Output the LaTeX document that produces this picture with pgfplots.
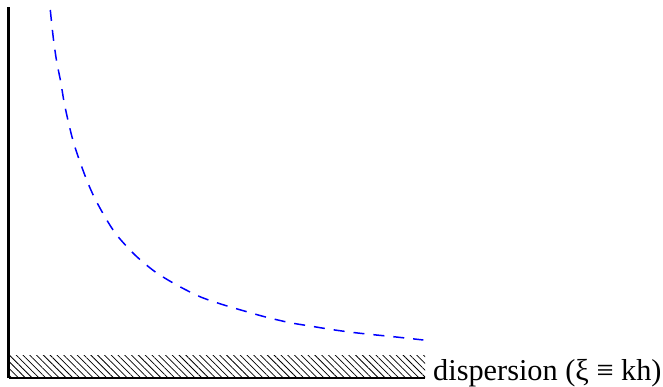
\documentclass[border=0pt]{standalone}
\usepackage{pgfplots}
\pgfplotsset{compat=1.18}
\usetikzlibrary{patterns.meta}
\usepackage{fontspec}
\setmainfont{Liberation Serif}
\begin{document}
\begin{tikzpicture}
\begin{axis}[
  scale only axis,
  width=416.3bp, height=371bp,
  xmin=8.7, xmax=425, ymin=8, ymax=379,
  axis lines=left,
  axis line style={-, line width=2.7bp, black},
  ticks=none,
  clip=false,
]
% invisible frame for picture size
\path (axis cs:0,0) rectangle (axis cs:663,386);
% hatched band
\addplot[draw=none, pattern={Lines[angle=-45,distance=4.8bp,line width=0.75bp]}]
  coordinates {(10,8) (425,8) (425,30) (10,30)} -- cycle;
% dispersion curve
\addplot[blue, line width=1.5bp, dash pattern=on 11bp off 9bp, smooth] coordinates {
(50.3,376) (53.3,348) (56.7,324.3) (60.7,304.3) (64,284.3) (68.3,264.3)
(73.3,244.3) (79.3,226) (86.7,206) (94,189.3) (105,169) (116.7,151)
(135,131) (155,114.3) (176.7,101) (200,89.3) (221.7,81.7) (246.7,74.3)
(266.7,68.7) (290,63.3) (310,60) (330,56.7) (351.7,53.7) (373.3,51.3)
(393.3,49.3) (423.3,46)
};
\node[anchor=base west, inner sep=0pt, font=\fontsize{30.3bp}{34bp}\selectfont]
  at (axis cs:433,6) {dispersion (ξ ≡ kh)};
\end{axis}
\end{tikzpicture}
\end{document}
